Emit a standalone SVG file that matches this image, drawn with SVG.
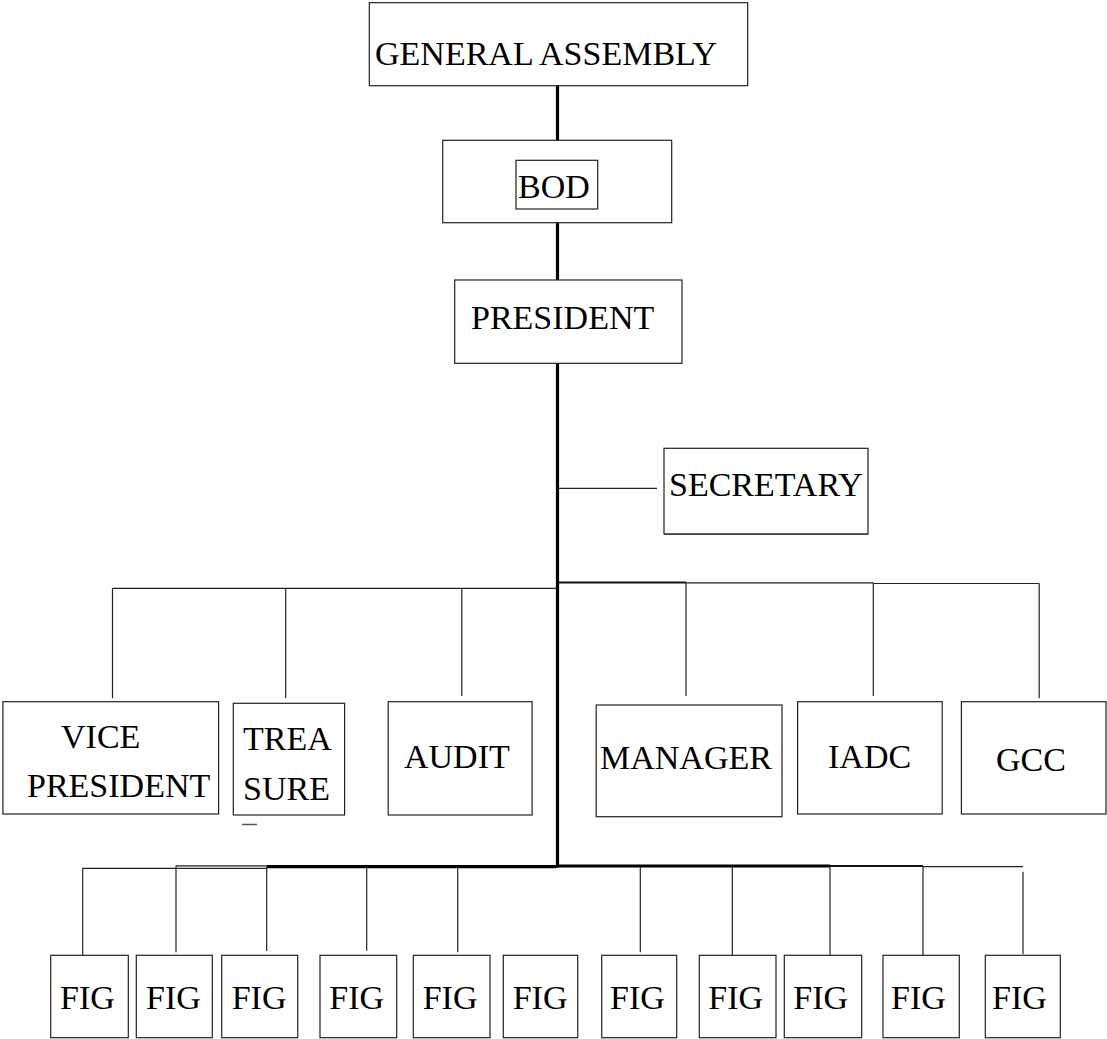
<svg xmlns="http://www.w3.org/2000/svg" width="1107" height="1039" viewBox="0 0 1107 1039">
<style>
.box{fill:#fff;stroke:#222;stroke-width:1.2}
.t{font-family:"Liberation Serif","Times New Roman",serif;font-size:34px;fill:#000}
.thin{stroke:#222;stroke-width:1.2;fill:none}
.mid{stroke:#111;stroke-width:2;fill:none}
.thick{stroke:#000;stroke-width:3.2;fill:none}
</style>
<rect width="1107" height="1039" fill="#fff"/>
<g id="connectors">
<line class="thick" x1="557.5" y1="86" x2="557.5" y2="140.5"/>
<line class="thick" x1="557.5" y1="222.5" x2="557.5" y2="280"/>
<line class="thick" x1="557.5" y1="363" x2="557.5" y2="867.5"/>
<line class="thin" x1="559" y1="488.3" x2="657" y2="488.3"/>
<line class="thin" x1="112.5" y1="588.3" x2="556" y2="588.3"/>
<line class="thin" x1="112.5" y1="588.3" x2="112.5" y2="698.3"/>
<line class="thin" x1="285.7" y1="588.3" x2="285.7" y2="698.3"/>
<line class="thin" x1="461.8" y1="588.3" x2="461.8" y2="696"/>
<line class="mid" x1="558" y1="582.6" x2="686" y2="582.6"/>
<line class="thin" x1="686" y1="582.8" x2="873.3" y2="582.8"/>
<line class="thin" x1="873.3" y1="583.5" x2="1039.2" y2="583.5"/>
<line class="thin" x1="686" y1="582.6" x2="686" y2="696"/>
<line class="thin" x1="873.3" y1="582.8" x2="873.3" y2="696"/>
<line class="thin" x1="1039.2" y1="583.5" x2="1039.2" y2="698.3"/>
<line class="thin" x1="82.7" y1="868.3" x2="266.7" y2="868.3"/>
<line class="thin" x1="176" y1="865.8" x2="266.7" y2="865.8"/>
<line class="thick" x1="266.7" y1="866.7" x2="556" y2="866.7"/>
<line class="thick" x1="556" y1="866" x2="830" y2="866"/>
<line class="mid" x1="830" y1="866" x2="923" y2="866"/>
<line class="thin" x1="923" y1="866.7" x2="1023" y2="866.7"/>
<line class="thin" x1="82.7" y1="868.3" x2="82.7" y2="955.3"/>
<line class="thin" x1="176" y1="865.8" x2="176" y2="952.3"/>
<line class="thin" x1="266.7" y1="866.7" x2="266.7" y2="951"/>
<line class="thin" x1="366.7" y1="866.7" x2="366.7" y2="950.7"/>
<line class="thin" x1="457.7" y1="866.7" x2="457.7" y2="952.3"/>
<line class="thin" x1="640.3" y1="866" x2="640.3" y2="952.3"/>
<line class="thin" x1="732.3" y1="866" x2="732.3" y2="957.3"/>
<line class="thin" x1="830" y1="866" x2="830" y2="957.3"/>
<line class="thin" x1="923" y1="866" x2="923" y2="964.3"/>
<line class="thin" x1="1023" y1="871.7" x2="1023" y2="954"/>
</g>
<g id="general-assembly">
<rect class="box" x="369.3" y="2.7" width="378.4" height="83"/>
<text class="t" x="375" y="65">GENERAL ASSEMBLY</text>
</g>
<g id="bod">
<rect class="box" x="442.7" y="140.3" width="229" height="82.4"/>
<rect class="box" x="516" y="160.3" width="81.7" height="48.7"/>
<text class="t" x="518" y="198">BOD</text>
</g>
<g id="president">
<rect class="box" x="454.7" y="280" width="227.3" height="83.3"/>
<text class="t" x="471" y="329">PRESIDENT</text>
</g>
<g id="secretary">
<rect class="box" x="664" y="448.3" width="204" height="85.7"/>
<line x1="664" y1="534.3" x2="868" y2="534.3" stroke="#444" stroke-width="1.5"/>
<text class="t" x="669" y="496">SECRETARY</text>
</g>
<g id="vice-president">
<rect class="box" x="2.9" y="701.7" width="215.7" height="112.3"/>
<text class="t" x="61" y="748.3">VICE</text>
<text class="t" x="27" y="796.7">PRESIDENT</text>
</g>
<g id="treasurer">
<rect class="box" x="233.3" y="703.3" width="111.3" height="111.7"/>
<text class="t" x="243" y="750">TREA</text>
<text class="t" x="243" y="800">SURE</text>
<line x1="242" y1="824.5" x2="257" y2="824.5" stroke="#555" stroke-width="1.5"/>
</g>
<g id="audit">
<rect class="box" x="388.2" y="701.7" width="143.9" height="113.3"/>
<text class="t" x="404" y="768.3">AUDIT</text>
</g>
<g id="manager">
<rect class="box" x="596.2" y="705" width="185.8" height="111.7"/>
<text class="t" x="600" y="769">MANAGER</text>
</g>
<g id="iadc">
<rect class="box" x="797.6" y="701.7" width="144.6" height="112.3"/>
<text class="t" x="828" y="768.3">IADC</text>
</g>
<g id="gcc">
<rect class="box" x="961.4" y="701.7" width="144.6" height="112.3"/>
<text class="t" x="996" y="771">GCC</text>
</g>
<g id="fig-1"><rect class="box" x="50.7" y="955.3" width="77.6" height="82.4"/><text class="t" x="60" y="1009.3">FIG</text></g>
<g id="fig-2"><rect class="box" x="136.3" y="955.3" width="76" height="82.4"/><text class="t" x="146" y="1009.3">FIG</text></g>
<g id="fig-3"><rect class="box" x="221.7" y="955.3" width="76" height="82.4"/><text class="t" x="231.7" y="1009.3">FIG</text></g>
<g id="fig-4"><rect class="box" x="320" y="955.3" width="76.7" height="82.4"/><text class="t" x="329.3" y="1009.3">FIG</text></g>
<g id="fig-5"><rect class="box" x="413.3" y="955.3" width="76.7" height="82.4"/><text class="t" x="422.7" y="1009.3">FIG</text></g>
<g id="fig-6"><rect class="box" x="503.3" y="955.3" width="74.4" height="82.4"/><text class="t" x="512.7" y="1009.3">FIG</text></g>
<g id="fig-7"><rect class="box" x="601.7" y="955.3" width="75" height="82.4"/><text class="t" x="610" y="1009.3">FIG</text></g>
<g id="fig-8"><rect class="box" x="699.3" y="955.3" width="76.7" height="82.4"/><text class="t" x="708.3" y="1009.3">FIG</text></g>
<g id="fig-9"><rect class="box" x="784.3" y="955.3" width="77.4" height="82.4"/><text class="t" x="793.3" y="1009.3">FIG</text></g>
<g id="fig-10"><rect class="box" x="883" y="955.3" width="76.3" height="82.4"/><text class="t" x="891" y="1009.3">FIG</text></g>
<g id="fig-11"><rect class="box" x="985.3" y="955.3" width="75" height="82.4"/><text class="t" x="992" y="1009.3">FIG</text></g>
</svg>
